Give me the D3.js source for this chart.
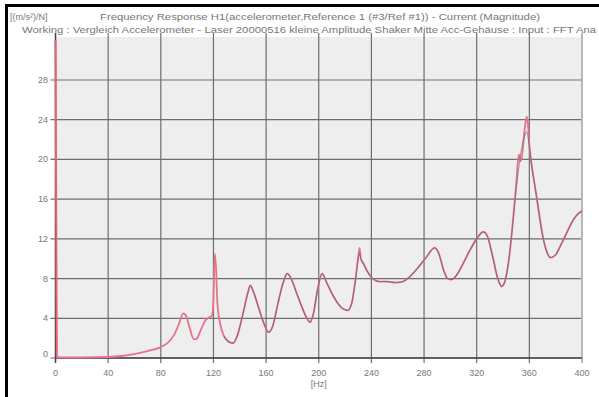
<!DOCTYPE html>
<html><head><meta charset="utf-8">
<script src="https://cdn.jsdelivr.net/npm/d3@7"></script>
<style>body{margin:0;background:#fff}svg{display:block}</style>
</head><body>
<svg id="c" width="599" height="397"></svg>
<script>
const unitLabel = "[(m/s²)/N]";
const titleLine1 = "Frequency Response H1(accelerometer,Reference 1 (#3/Ref #1)) - Current (Magnitude)";
const titleLine2 = "Working : Vergleich Accelerometer - Laser 20000516 kleine Amplitude Shaker Mitte Acc-Gehäuse : Input : FFT Ana";
const xLabel = "[Hz]";
const xTicks = [0,40,80,120,160,200,240,280,320,360,400];
const yTicks = [0,4,8,12,16,20,24,28];

// Current (red)
const curFreq = [0,1,2,20,40,50,60,70,80,85,90,94,97,99,102,105,107,110,114,117,119,120,121,122,123,125,128,132,135,138,142,146,148,150,154,158,162,165,169,173,176,179,183,187,191,193.5,196,199,202.5,206,210,214,218,222,225,228,230,231,232,234,237,241,246,252,258,264,270,276,282,288,291,295,298,301,305,310,315,320,325,328,332,336,339,342,345,348,350,352,353.5,355,356,357,358,359,360,362,364,366,368,370,373,376,380,384,388,392,396,400];
const curVal  = [32,0.1,0.05,0.05,0.1,0.2,0.4,0.7,1.1,1.5,2.3,3.5,4.5,4.3,3.0,1.9,1.9,2.7,3.8,4.1,4.3,6.0,10.5,9.0,5.5,3.5,2.2,1.6,1.5,2.2,4.2,6.5,7.3,6.8,5.2,3.6,2.6,3.2,5.5,7.6,8.5,8.0,6.6,5.2,4.0,3.6,4.5,6.8,8.5,7.6,6.5,5.6,5.0,4.8,5.5,8.0,10.2,11.1,10.0,9.5,8.7,8.0,7.7,7.7,7.6,7.7,8.3,9.2,10.2,11.1,10.6,8.8,8.0,7.9,8.4,9.6,10.9,12.0,12.7,12.3,10.3,8.0,7.2,8.0,10.5,14.5,17.5,20.5,19.8,21.0,22.5,23.6,24.3,23.5,21.5,19.2,17.5,15.8,14.0,12.4,10.8,10.1,10.4,11.4,12.5,13.6,14.4,14.8];

// Reference (dark)
const refFreq = [128,132,135,138,142,146,148,150,154,158,162,165,169,173,176,179,183,187,191,193.5,196,199,202.5,206,210,214,218,222,225,228,230,231,232,234,237,241,246,252,258,264,270,276,282,288,291,295,298,301,305,310,315,320,325,328,332,336,339,342,345,348,350,352,354,356,358,360,362,364,366,368,370,373,376,380,384,388,392,396,400];
const refVal  = [2.2,1.6,1.5,2.2,4.2,6.5,7.3,6.8,5.2,3.6,2.6,3.2,5.5,7.6,8.5,8.0,6.6,5.2,4.0,3.6,4.5,6.8,8.5,7.6,6.5,5.6,5.0,4.8,5.5,8.0,10.0,10.6,10.0,9.5,8.7,8.0,7.7,7.7,7.6,7.7,8.3,9.2,10.2,11.1,10.6,8.8,8.0,7.9,8.4,9.6,10.9,12.0,12.7,12.3,10.3,8.0,7.2,8.0,10.5,14.3,17.0,19.2,21.0,22.2,22.8,21.3,19.2,17.5,15.8,14.0,12.4,10.8,10.1,10.4,11.4,12.5,13.6,14.4,14.8];

const svg = d3.select("#c");
const x = d3.scaleLinear().domain([0,400]).range([55.5,582]);
const y = d3.scaleLinear().domain([0,28]).range([358,80]);
const plotTop = 37;

// frame
svg.append("line").attr("x1",5).attr("x2",599).attr("y1",5.5).attr("y2",5.5).attr("stroke","#000").attr("stroke-width",3);
svg.append("line").attr("x1",6.5).attr("x2",6.5).attr("y1",4).attr("y2",397).attr("stroke","#000").attr("stroke-width",3);

// plot bg
svg.append("rect").attr("x",x(0)).attr("y",plotTop).attr("width",x(400)-x(0)).attr("height",y(0)-plotTop).attr("fill","#eeeeee");

const g = svg.append("g");
g.selectAll("line.h").data(yTicks).join("line").attr("class","h")
  .attr("x1",x(0)-5).attr("x2",x(400)).attr("y1",d=>y(d)).attr("y2",d=>y(d))
  .attr("stroke","#6e6e6e").attr("stroke-width",1.2);
g.selectAll("line.v").data(xTicks).join("line").attr("class","v")
  .attr("x1",d=>x(d)).attr("x2",d=>x(d)).attr("y1",plotTop-4).attr("y2",y(0)+5)
  .attr("stroke",d=>d===400?"#b8b8b8":"#6e6e6e").attr("stroke-width",d=>d===400?2:1.2);
g.append("line").attr("x1",x(0)).attr("x2",x(400)).attr("y1",y(0)).attr("y2",y(0)).attr("stroke","#444").attr("stroke-width",1.6);
g.append("line").attr("x1",x(0)).attr("x2",x(0)).attr("y1",plotTop-4).attr("y2",y(0)+5).attr("stroke","#444").attr("stroke-width",1.4);

const tfont = "Liberation Sans, Arial, sans-serif";
svg.selectAll("text.yt").data(yTicks).join("text").attr("class","yt")
  .attr("x",48).attr("y",d=>y(d)+ (d===0?-1:3)).attr("text-anchor","end")
  .attr("font-family",tfont).attr("font-size",9).attr("fill","#777").text(d=>d);
svg.selectAll("text.xt").data(xTicks).join("text").attr("class","xt")
  .attr("x",d=>x(d)).attr("y",376).attr("text-anchor","middle")
  .attr("font-family",tfont).attr("font-size",9).attr("fill","#777").text(d=>d);
svg.append("text").attr("x",x(200)).attr("y",387).attr("text-anchor","middle")
  .attr("font-family",tfont).attr("font-size",9).attr("fill","#777").text(xLabel);

svg.append("text").attr("x",10).attr("y",20).attr("font-family",tfont).attr("font-size",9).attr("fill","#777").text(unitLabel);
svg.append("text").attr("x",100).attr("y",20).attr("font-family",tfont).attr("font-size",9.5).attr("fill","#777")
  .attr("textLength",440).attr("lengthAdjust","spacingAndGlyphs").text(titleLine1);
svg.append("text").attr("x",22).attr("y",33).attr("font-family",tfont).attr("font-size",9.5).attr("fill","#777")
  .attr("textLength",574).attr("lengthAdjust","spacingAndGlyphs").text(titleLine2);

const clipId = "clipPlot";
svg.append("clipPath").attr("id",clipId).append("rect").attr("x",x(0)-2).attr("y",plotTop).attr("width",x(400)-x(0)+4).attr("height",y(0)-plotTop+2);
const line = d3.line().x(d=>x(d[0])).y(d=>y(d[1])).curve(d3.curveMonotoneX);
const lineLin = d3.line().x(d=>x(d[0])).y(d=>y(d[1])).curve(d3.curveLinear);
const cur = curFreq.map((f,i)=>[f,curVal[i]]);
const ref = refFreq.map((f,i)=>[f,refVal[i]]);
const cg = svg.append("g").attr("clip-path",`url(#${clipId})`);
cg.append("path").attr("d",lineLin(cur.slice(0,3))).attr("fill","none").attr("stroke","#e0647c").attr("stroke-width",2);
cg.append("path").attr("d",line(cur.slice(1))).attr("fill","none").attr("stroke","#e6738c").attr("stroke-width",1.8);
cg.append("path").attr("d",line(ref)).attr("fill","none").attr("stroke","#6e5c64").attr("stroke-width",1.1).attr("opacity",0.6);
</script>
</body></html>
